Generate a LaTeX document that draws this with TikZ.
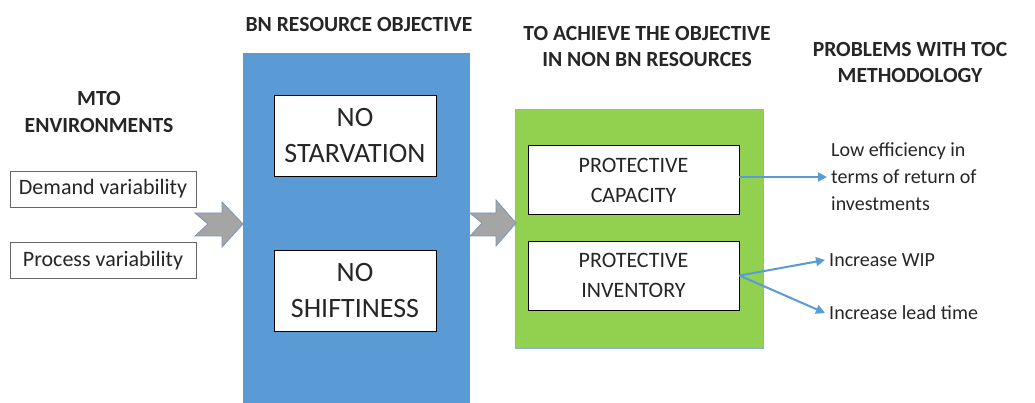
\documentclass[tikz,border=0pt]{standalone}
\usepackage{fontspec}
\setmainfont{Carlito}
\usetikzlibrary{arrows.meta}
\definecolor{bnblue}{HTML}{5B9BD5}
\definecolor{nongreen}{HTML}{92D050}
\definecolor{nonedge}{HTML}{8FAFD8}
\definecolor{flowgray}{HTML}{A5A5A5}
\definecolor{flowedge}{HTML}{7A95B8}
\definecolor{txtgray}{HTML}{262626}

\begin{document}
\begin{tikzpicture}[x=1pt,y=-1pt,
		header/.style={font=\fontsize{21.6}{26.5}\selectfont\bfseries,align=center,text=txtgray,inner sep=0pt},
		source/.style={draw=black!60,line width=0.9pt,fill=white,minimum width=186pt,minimum height=36pt,inner sep=0pt,font=\fontsize{22}{26}\selectfont,text=txtgray},
		bigbox/.style={draw=black,line width=0.9pt,fill=white,minimum width=162pt,minimum height=81pt,inner sep=0pt,align=center,font=\fontsize{28}{36}\selectfont,text=txtgray},
		protbox/.style={draw=black,line width=0.9pt,fill=white,minimum width=211pt,minimum height=69pt,inner sep=0pt,align=center,font=\fontsize{22}{30}\selectfont,text=txtgray},
		problem/.style={anchor=west,align=left,inner sep=4pt,font=\fontsize{20}{27}\selectfont,text=txtgray},
		flow/.style={fill=flowgray,draw=flowedge,line width=0.8pt,line join=miter},
		probarrow/.style={draw=bnblue,line width=2pt,-{Triangle[length=9pt,width=9pt]}},
	]
	\clip (0,0) rectangle (1035,403);
	\fill[white] (0,0) rectangle (1035,403);

	\node[header] (mto) at (99,112) {MTO\\ENVIRONMENTS};
	\node[source] (demand) at (103,189) {Demand variability};
	\node[source] (process) at (103,260.5) {Process variability};

	\node[header] (bnhead) at (359,25) {BN RESOURCE OBJECTIVE};
	\fill[bnblue] (243,53) rectangle (470,410);
	\node[bigbox] (starv) at (355,136) {NO\\STARVATION};
	\node[bigbox] (shift) at (355,291) {NO\\SHIFTINESS};

	\node[header] (nonhead) at (647,46.5) {TO ACHIEVE THE OBJECTIVE\\IN NON BN RESOURCES};
	\draw[fill=nongreen,draw=nonedge,line width=1pt] (515,110) rectangle (763,348);
	\node[protbox] (cap) at (633.5,180) {PROTECTIVE\\CAPACITY};
	\node[protbox] (inv) at (633.5,275.5) {PROTECTIVE\\INVENTORY};

	\node[header] (tochead) at (910,62.5) {PROBLEMS WITH TOC\\METHODOLOGY};
	\node[problem] (low) at (827,177) {Low efficiency in\\terms of return of\\investments};
	\node[problem] (wip) at (825,260) {Increase WIP};
	\node[problem] (lead) at (825,313) {Increase lead time};

	\coordinate (bnin) at (243,224);
	\coordinate (nonin) at (516,223);
	\draw[flow] (bnin) -- ++(-21,-22) -- ++(0,11) -- ++(-27,0) -- ++(13,11) -- ++(-13,12) -- ++(27,0) -- ++(0,11) -- cycle;
	\draw[flow] (nonin) -- ++(-20,-23) -- ++(0,13) -- ++(-26,0) -- ++(12,10) -- ++(-12,13) -- ++(26,0) -- ++(0,10) -- cycle;

	\draw[probarrow] (cap.east |- low.west) -- (low.west);
	\draw[probarrow] (inv.east) -- (wip.west);
	\draw[probarrow] (inv.east) -- (lead.west);
\end{tikzpicture}
\end{document}
